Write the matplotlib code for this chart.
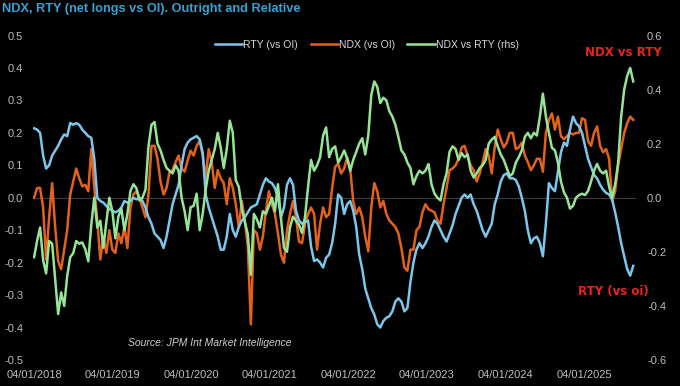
import numpy as np
import pandas as pd
import matplotlib
matplotlib.use("Agg")
import matplotlib.pyplot as plt

plt.rcParams["axes.unicode_minus"] = False

# fortnightly observations, 04/01/2018 -> Aug 2025
DATES = pd.date_range("2018-01-04", periods=200, freq="14D")

RTY = [
    0.214, 0.21, 0.20, 0.13, 0.09, 0.10, 0.13, 0.145, 0.16, 0.18,
    0.195, 0.19, 0.23, 0.225, 0.23, 0.225, 0.21, 0.20, 0.19, 0.185,
    0.12, 0.0, -0.01, -0.015, -0.025, -0.035, -0.04, -0.045, -0.04, -0.03,
    -0.01, -0.015, -0.01, 0.0, -0.005, 0.0, -0.01, -0.03, -0.06, -0.08,
    -0.11, -0.12, -0.13, -0.155, -0.12, -0.07, -0.02, 0.01, 0.04, 0.10,
    0.15, 0.17, 0.18, 0.185, 0.19, 0.18, 0.14, 0.01, -0.03, -0.06,
    -0.09, -0.12, -0.16, -0.16, -0.12, -0.05, -0.10, -0.12, -0.09, -0.07,
    -0.06, -0.045, -0.03, -0.025, -0.02, 0.01, 0.04, 0.06, 0.05, 0.045,
    0.03, 0.0, -0.06, -0.03, 0.04, 0.06, 0.04, -0.04, -0.07, -0.08,
    -0.075, -0.07, -0.15, -0.195, -0.19, -0.20, -0.215, -0.185, -0.175, -0.14,
    -0.08, 0.01, 0.0, -0.05, -0.02, -0.01, -0.04, -0.09, -0.175, -0.22,
    -0.28, -0.31, -0.34, -0.36, -0.39, -0.40, -0.38, -0.37, -0.365, -0.35,
    -0.32, -0.31, -0.32, -0.35, -0.34, -0.26, -0.20, -0.16, -0.14, -0.155,
    -0.14, -0.12, -0.09, -0.07, -0.08, -0.10, -0.12, -0.135, -0.11, -0.085,
    -0.05, -0.025, 0.0, 0.01, 0.0, 0.01, -0.02, -0.04, -0.07, -0.10,
    -0.12, -0.10, -0.08, -0.02, 0.01, 0.05, 0.07, 0.075, 0.06, 0.06,
    0.055, 0.035, 0.0, -0.04, -0.10, -0.14, -0.125, -0.12, -0.14, -0.18,
    -0.08, 0.045, 0.03, 0.02, 0.08, 0.14, 0.17, 0.16, 0.21, 0.25,
    0.23, 0.22, 0.20, 0.16, 0.12, 0.095, 0.07, 0.06, 0.04, 0.025,
    0.015, 0.01, -0.005, -0.045, -0.09, -0.14, -0.18, -0.22, -0.24, -0.21,
]

NDX = [
    0.0, 0.03, 0.03, -0.03, -0.19, -0.06, 0.045, -0.09, -0.195, -0.22,
    -0.16, -0.10, 0.01, 0.05, 0.09, 0.06, 0.035, 0.04, 0.02, 0.15,
    0.03, -0.07, -0.19, -0.12, -0.17, -0.10, -0.16, -0.17, -0.11, -0.14,
    -0.09, -0.155, -0.03, 0.01, 0.02, 0.0, -0.03, -0.06, 0.01, 0.16,
    0.16, 0.12, 0.05, 0.01, 0.03, 0.08, 0.085, 0.11, 0.13, 0.09,
    0.08, 0.115, 0.145, 0.13, 0.16, 0.175, 0.13, 0.06, 0.15, 0.11,
    0.03, 0.085, 0.06, 0.045, -0.02, 0.06, 0.03, -0.02, -0.09, -0.01,
    -0.07, -0.15, -0.39, -0.10, -0.11, -0.16, -0.12, -0.04, 0.02, -0.02,
    -0.05, -0.11, -0.175, -0.20, -0.10, -0.05, -0.01, -0.06, -0.135, -0.14,
    -0.08, -0.05, -0.03, -0.05, -0.16, -0.08, -0.03, -0.06, -0.05, 0.03,
    0.095, 0.105, 0.075, 0.09, 0.125, 0.09, -0.01, -0.05, -0.03, -0.06,
    -0.12, -0.165, -0.03, 0.045, 0.02, -0.03, -0.01, -0.05, -0.07, -0.08,
    -0.09, -0.11, -0.155, -0.215, -0.225, -0.16, -0.16, -0.10, -0.09, -0.045,
    -0.02, -0.035, -0.04, -0.045, -0.07, -0.08, -0.02, 0.03, 0.085, 0.09,
    0.10, 0.12, 0.155, 0.16, 0.13, 0.10, 0.085, 0.05, 0.075, 0.11,
    0.15, 0.13, 0.075, 0.155, 0.21, 0.18, 0.155, 0.17, 0.20, 0.20,
    0.15, 0.155, 0.17, 0.13, 0.11, 0.085, 0.10, 0.12, 0.12, 0.08,
    0.20, 0.24, 0.26, 0.21, 0.25, 0.19, 0.18, 0.19, 0.20, 0.195,
    0.20, 0.20, 0.245, 0.24, 0.175, 0.16, 0.20, 0.22, 0.16, 0.14,
    0.15, 0.12, -0.01, 0.02, 0.10, 0.15, 0.20, 0.23, 0.25, 0.24,
]

NDX_VS_RTY = [
    -0.22, -0.16, -0.11, -0.23, -0.28, -0.16, -0.17, -0.30, -0.43, -0.35,
    -0.40, -0.29, -0.22, -0.205, -0.16, -0.17, -0.165, -0.19, -0.235, -0.10,
    0.0, -0.11, -0.085, -0.185, -0.09, 0.0, -0.05, -0.15, -0.07, -0.04,
    -0.12, -0.06, 0.025, 0.05, 0.035, -0.01, 0.0, 0.03, 0.19, 0.27,
    0.28, 0.20, 0.175, 0.14, 0.11, 0.10, 0.09, 0.12, 0.10, 0.0,
    -0.05, -0.12, -0.035, -0.03, 0.015, -0.12, -0.06, 0.03, 0.10, 0.14,
    0.18, 0.24, 0.185, 0.11, 0.18, 0.285, 0.24, 0.065, 0.04, -0.04,
    -0.09, -0.135, -0.285, -0.06, -0.08, -0.11, -0.05, -0.06, -0.03, 0.0,
    -0.05, 0.05, -0.075, -0.185, -0.20, -0.11, -0.07, -0.085, -0.10, -0.13,
    -0.07, 0.04, 0.14, 0.10, 0.12, 0.15, 0.23, 0.26, 0.15, 0.18,
    0.19, 0.13, 0.15, 0.175, 0.145, 0.10, 0.14, 0.17, 0.20, 0.22,
    0.16, 0.23, 0.38, 0.43, 0.41, 0.35, 0.37, 0.36, 0.32, 0.30,
    0.27, 0.225, 0.175, 0.16, 0.13, 0.11, 0.05, 0.08, 0.10, 0.09,
    0.10, 0.125, 0.05, 0.015, 0.0, -0.01, 0.05, 0.09, 0.17, 0.19,
    0.18, 0.14, 0.165, 0.15, 0.16, 0.10, 0.075, 0.09, 0.11, 0.12,
    0.14, 0.20, 0.215, 0.225, 0.19, 0.16, 0.14, 0.11, 0.08, 0.09,
    0.13, 0.15, 0.175, 0.225, 0.24, 0.22, 0.24, 0.23, 0.30, 0.385,
    0.30, 0.24, 0.185, 0.175, 0.13, 0.06, 0.02, 0.0, -0.04, -0.03,
    0.0, 0.01, 0.015, 0.01, 0.025, 0.06, 0.10, 0.125, 0.10, 0.09,
    0.10, 0.04, 0.0, 0.05, 0.13, 0.30, 0.40, 0.45, 0.48, 0.43,
]

X_TICKS = ["2018-01-04", "2019-01-04", "2020-01-04", "2021-01-04",
           "2022-01-04", "2023-01-04", "2024-01-04", "2025-01-04"]
X_LABELS = ["04/01/2018", "04/01/2019", "04/01/2020", "04/01/2021",
            "04/01/2022", "04/01/2023", "04/01/2024", "04/01/2025"]
LEFT_TICKS = [-0.5, -0.4, -0.3, -0.2, -0.1, 0.0, 0.1, 0.2, 0.3, 0.4, 0.5]
LEFT_LABELS = ["-0.5", "-0.4", "-0.3", "-0.2", "-0.1", "0.0",
               "0.1", "0.2", "0.3", "0.4", "0.5"]
RIGHT_TICKS = [-0.6, -0.4, -0.2, 0.0, 0.2, 0.4, 0.6]
RIGHT_LABELS = ["-0.6", "-0.4", "-0.2", "0.0", "0.2", "0.4", "0.6"]

BLUE, ORANGE, GREEN = "#7cc6ec", "#e2621c", "#96e496"
GREY, RED, TITLE = "#bdbdbd", "#e8241e", "#34a3d6"
FONT = ["Liberation Sans", "DejaVu Sans"]


def main():
    fig = plt.figure(figsize=(6.8, 3.86), dpi=100, facecolor="black")
    ax = fig.add_axes([33 / 680, 1 - 360 / 386, 603 / 680, 324.5 / 386])
    ax.set_facecolor("black")
    ax2 = ax.twinx()

    ax.axhline(0, color="#3c3c3c", lw=0.8, zorder=1)
    l1, = ax.plot(DATES, RTY, color=BLUE, lw=1.8, label="RTY (vs OI)", zorder=3)
    l2, = ax.plot(DATES, NDX, color=ORANGE, lw=1.8, label="NDX (vs OI)", zorder=2)
    l3, = ax2.plot(DATES, NDX_VS_RTY, color=GREEN, lw=1.8, label="NDX vs RTY (rhs)")

    ax.set_xlim(pd.Timestamp("2017-12-30"), pd.Timestamp("2025-09-03"))
    ax.set_ylim(-0.5, 0.5)
    ax2.set_ylim(-0.6, 0.6)

    ax.set_xticks(pd.to_datetime(X_TICKS))
    ax.set_xticklabels(X_LABELS, family=FONT, fontsize=8)
    ax.set_yticks(LEFT_TICKS)
    ax.set_yticklabels(LEFT_LABELS, family=FONT, fontsize=8)
    ax2.set_yticks(RIGHT_TICKS)
    ax2.set_yticklabels(RIGHT_LABELS, family=FONT, fontsize=8, ha="left")
    ax.tick_params(axis="x", colors=GREY, length=0, pad=7)
    ax.tick_params(axis="y", colors=GREY, length=0, pad=7)
    ax2.tick_params(axis="y", colors=GREY, length=0, pad=8)
    for a in (ax, ax2):
        for s in a.spines.values():
            s.set_visible(False)

    leg = ax2.legend(handles=[l1, l2, l3], loc="center", ncol=3,
                     bbox_to_anchor=(367 / 680, 1 - 45 / 386),
                     bbox_transform=fig.transFigure, frameon=False,
                     prop={"family": FONT, "size": 7.5},
                     handlelength=2.6, handletextpad=0.1, columnspacing=1.2)
    for t in leg.get_texts():
        t.set_color("#d6d6d6")

    fig.text(0.003, 1 - 9 / 386, "NDX, RTY (net longs vs OI). Outright and Relative",
             color=TITLE, fontsize=9.2, fontweight="bold", family=FONT,
             ha="left", va="center")
    fig.text(128 / 680, 1 - 343 / 386, "Source: JPM Int Market Intelligence",
             color="#cfcfcf", fontsize=7.5, style="italic", family=FONT,
             ha="left", va="center")
    fig.text(623 / 680, 1 - 53 / 386, "NDX vs RTY", color=RED, fontsize=8.5,
             fontweight="bold", ha="center", va="center")
    fig.text(613 / 680, 1 - 292 / 386, "RTY (vs oi)", color=RED, fontsize=8.5,
             fontweight="bold", ha="center", va="center")

    fig.savefig("out.png", dpi=100, facecolor="black")


if __name__ == "__main__":
    main()
